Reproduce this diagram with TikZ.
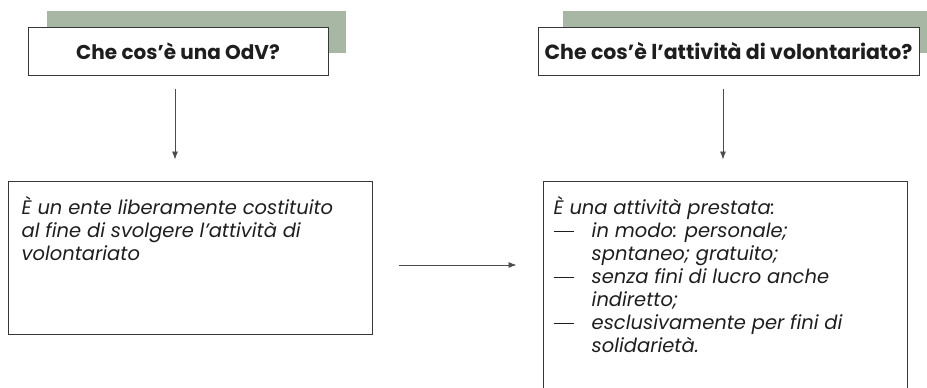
\documentclass[tikz,border=0pt]{standalone}
\usepackage{fontspec}
\setmainfont{Poppins}
\usetikzlibrary{arrows.meta,positioning}

\definecolor{shadowgreen}{RGB}{168,183,163}
\definecolor{framegray}{RGB}{55,55,55}
\definecolor{inkgray}{RGB}{30,30,30}

\tikzset{
  headbox/.style={draw=framegray, fill=white, line width=1pt, text=inkgray,
    font=\bfseries\fontsize{20}{24}\selectfont, inner sep=0pt, minimum height=48pt},
  bodybox/.style={draw=framegray, line width=1pt, inner sep=0pt},
  bodytext/.style={font=\itshape\fontsize{19.5}{23}\selectfont, text=inkgray,
    align=left, inner sep=0pt, anchor=north west},
  arr/.style={-{Latex[length=8pt,width=6pt]}, draw=black!70, line width=0.8pt},
}
\newcommand{\dashitem}{\makebox[38pt][l]{\rule[5.5pt]{20pt}{1.1pt}}}
\newcommand{\hang}{\hspace*{38pt}}

\begin{document}
\begin{tikzpicture}[x=1pt, y=-1pt]
  \useasboundingbox (0,0) rectangle (927,388);
  \clip (0,0) rectangle (927,388);

  % green shadows behind the questions
  \fill[shadowgreen] (47,11)  rectangle (346,53);
  \fill[shadowgreen] (563,11) rectangle (930,53);

  % questions
  \node[headbox, minimum width=300pt] (qOdV) at (178,51)   {Che cos’è una OdV?};
  \node[headbox, minimum width=381pt, font=\bfseries\fontsize{20.5}{24}\selectfont]
    (qAtt) at (728.5,51) {Che cos’è l’attività di volontariato?};

  % answers
  \node[bodybox, minimum width=364pt, minimum height=153pt] (defOdV) at (190,257.5) {};
  \node[bodybox, minimum width=364pt, minimum height=260pt] (defAtt) at (725,311)   {};

  \node[bodytext] (txtOdV) at ([xshift=14pt,yshift=-16pt]defOdV.north west)
    {È un ente liberamente costituito\\
     al fine di svolgere l’attività di\\
     volontariato};
  \node[bodytext] (txtAtt) at ([xshift=11pt,yshift=-16pt]defAtt.north west)
    {È una attività prestata:\\
     \dashitem in modo: personale;\\
     \hang spntaneo; gratuito;\\
     \dashitem senza fini di lucro anche\\
     \hang indiretto;\\
     \dashitem esclusivamente per fini di\\
     \hang solidarietà.};

  % connectors
  \draw[arr] ([xshift=-3pt,yshift=-13pt]qOdV.south)
    -- ([xshift=-3pt,yshift=21pt]qOdV.south |- defOdV.north);
  \draw[arr] ([xshift=-5.5pt,yshift=-13pt]qAtt.south)
    -- ([xshift=-5.5pt,yshift=21pt]qAtt.south |- defAtt.north);
  \draw[arr, shorten <=26pt, shorten >=26pt] ([yshift=-7.5pt]defOdV.east)
    -- ([yshift=-7.5pt]defOdV.east -| defAtt.west);
\end{tikzpicture}
\end{document}
